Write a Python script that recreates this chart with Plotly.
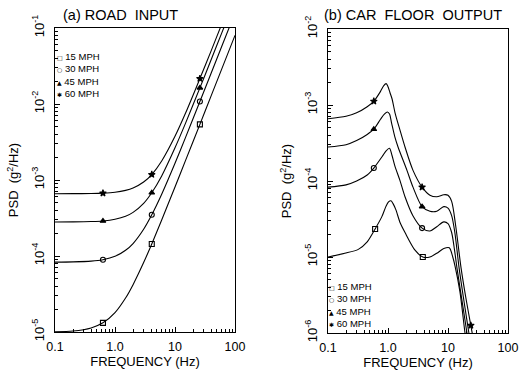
import plotly.graph_objects as go

W, H = 519, 377

# ---------------- (a) ROAD INPUT ----------------
road_f = [0.1, 0.2, 0.4, 0.63, 1, 1.5, 2, 3, 4.1, 6, 10, 15, 26, 40, 60, 100]
road_15 = [1.008e-5, 1.03e-5, 1.13e-5, 1.32e-5, 1.8e-5, 2.8e-5, 4.2e-5, 8.2e-5, 1.44e-4,
           2.98e-4, 8.1e-4, 1.81e-3, 5.4e-3, 1.28e-2, 2.88e-2, 8.0e-2]
road_30 = [8.3e-5, 8.36e-5, 8.55e-5, 8.93e-5, 9.9e-5, 1.19e-4, 1.46e-4, 2.25e-4, 3.49e-4,
           6.5e-4, 1.66e-3, 3.64e-3, 1.08e-2, 2.54e-2, 5.7e-2, 1.58e-1]
road_45 = [2.8e-4, 2.81e-4, 2.84e-4, 2.89e-4, 3.04e-4, 3.33e-4, 3.75e-4, 4.93e-4, 6.8e-4,
           1.13e-3, 2.65e-3, 5.6e-3, 1.63e-2, 3.82e-2, 8.56e-2, 2.37e-1]
road_60 = [6.6e-4, 6.61e-4, 6.65e-4, 6.72e-4, 6.9e-4, 7.3e-4, 7.84e-4, 9.4e-4, 1.18e-3,
           1.78e-3, 3.76e-3, 7.6e-3, 2.16e-2, 5.0e-2, 1.12e-1, 3.1e-1]
road_mark_f = [0.63, 4.1, 26]
road_mark_15 = [1.32e-5, 1.44e-4, 5.4e-3]
road_mark_30 = [8.93e-5, 3.49e-4, 1.08e-2]
road_mark_45 = [2.89e-4, 6.8e-4, 1.63e-2]
road_mark_60 = [6.72e-4, 1.18e-3, 2.16e-2]

# ---------------- (b) CAR FLOOR OUTPUT ----------------
car_f_15 = [0.1, 0.19, 0.32, 0.45, 0.61, 0.79, 0.92, 1.02, 1.12, 1.22, 1.35, 1.6, 1.92, 2.82,
            3.8, 5, 6.5, 8.5, 10.5, 12, 13.1, 15.8, 19.2, 21]
car_15 = [1.0e-5, 1.12e-5, 1.26e-5, 1.58e-5, 2.34e-5, 3.4e-5, 4.6e-5, 5.3e-5, 5.5e-5, 5.0e-5,
          4.2e-5, 2.8e-5, 2.1e-5, 1.23e-5, 1.0e-5, 1.0e-5, 1.12e-5, 1.29e-5, 1.32e-5, 1.0e-5,
          7.6e-6, 3.5e-6, 1.0e-6, 6.3e-7]
car_f_30 = [0.1, 0.2, 0.3, 0.45, 0.58, 0.8, 0.93, 1.06, 1.16, 1.3, 1.58, 1.92, 2.6, 3.7, 5,
            6.5, 8.5, 10, 11.5, 12.8, 14.1, 17, 20.7, 23]
car_30 = [8.3e-5, 8.9e-5, 1.0e-4, 1.2e-4, 1.48e-4, 2.1e-4, 2.5e-4, 2.7e-4, 2.2e-4, 1.58e-4,
          1.02e-4, 6.2e-5, 3.5e-5, 2.4e-5, 2.2e-5, 2.5e-5, 2.9e-5, 2.75e-5, 2.1e-5, 1.26e-5,
          7.2e-6, 2.75e-6, 1.0e-6, 5.6e-7]
car_f_45 = [0.1, 0.2, 0.3, 0.45, 0.58, 0.75, 0.87, 0.98, 1.06, 1.15, 1.3, 1.47, 2.07, 2.61,
            3.7, 5, 6.5, 8.5, 10, 11.5, 13, 15.3, 18.5, 22.3, 25]
car_45 = [2.8e-4, 3.0e-4, 3.4e-4, 4.1e-4, 4.8e-4, 6.5e-4, 7.6e-4, 8.1e-4, 7.6e-4, 5.75e-4,
          3.8e-4, 2.8e-4, 1.38e-4, 8.3e-5, 4.6e-5, 4.0e-5, 4.0e-5, 4.6e-5, 4.4e-5, 3.5e-5,
          2.1e-5, 7.2e-6, 2.6e-6, 1.0e-6, 5.6e-7]
car_f_60 = [0.1, 0.2, 0.3, 0.45, 0.58, 0.75, 0.85, 0.93, 1.0, 1.08, 1.17, 1.31, 1.58, 1.92,
            2.61, 3.7, 5, 6.5, 8.5, 10, 11.5, 13.5, 16.5, 20, 24, 26]
car_60 = [6.6e-4, 7.1e-4, 7.9e-4, 9.5e-4, 1.12e-3, 1.51e-3, 1.8e-3, 1.91e-3, 1.74e-3, 1.45e-3,
          1.2e-3, 7.9e-4, 4.7e-4, 2.8e-4, 1.38e-4, 8.3e-5, 6.5e-5, 6.2e-5, 6.6e-5, 6.5e-5,
          5.4e-5, 2.5e-5, 7.2e-6, 2.8e-6, 1.26e-6, 8.9e-7]
car_mark_f_15 = [0.61, 3.8]
car_mark_15 = [2.34e-5, 1.0e-5]
car_mark_f_30 = [0.58, 3.7]
car_mark_30 = [1.48e-4, 2.4e-5]
car_mark_f_45 = [0.58, 3.7]
car_mark_45 = [4.8e-4, 4.6e-5]
car_mark_f_60 = [0.58, 3.7, 24]
car_mark_60 = [1.12e-3, 8.3e-5, 1.26e-6]

speeds = ["15 MPH", "30 MPH", "45 MPH", "60 MPH"]
symbols = ["square-open", "circle-open", "triangle-up", "star"]
legend_glyphs = ["\u25a1", "\u25cb", "\u25b2", "\u2731"]

FONT = "Liberation Sans"
LW = 1.1

fig = go.Figure()

def add_curve(x, y, xa, ya):
    fig.add_trace(go.Scatter(x=x, y=y, mode="lines", xaxis=xa, yaxis=ya,
                             line=dict(color="black", width=LW, shape="spline", smoothing=0.8),
                             showlegend=False, hoverinfo="skip"))

def add_marks(x, y, sym, xa, ya):
    fig.add_trace(go.Scatter(x=x, y=y, mode="markers", xaxis=xa, yaxis=ya,
                             marker=dict(symbol=sym, size=5, color="black",
                                         line=dict(color="black", width=1.1)),
                             showlegend=False, hoverinfo="skip"))

for y in [road_15, road_30, road_45, road_60]:
    add_curve(road_f, y, "x", "y")
for y, s in zip([road_mark_15, road_mark_30, road_mark_45, road_mark_60], symbols):
    add_marks(road_mark_f, y, s, "x", "y")

for x, y in zip([car_f_15, car_f_30, car_f_45, car_f_60], [car_15, car_30, car_45, car_60]):
    add_curve(x, y, "x2", "y2")
for x, y, s in zip([car_mark_f_15, car_mark_f_30, car_mark_f_45, car_mark_f_60],
                   [car_mark_15, car_mark_30, car_mark_45, car_mark_60], symbols):
    add_marks(x, y, s, "x2", "y2")

x_minor = [m * 10 ** e for e in (-1, 0, 1) for m in range(2, 10)]

def xaxis(domain, anchor):
    return dict(type="log", range=[-1, 2], domain=domain, anchor=anchor, automargin=False,
                tickmode="array", tickvals=[0.1, 1, 10, 100], ticktext=["0.1", "1.0", "10", "100"],
                ticks="inside", ticklen=5, tickcolor="black", tickwidth=1,
                minor=dict(tickmode="array", tickvals=x_minor, ticks="inside", ticklen=3,
                           tickcolor="black", showgrid=False),
                showline=True, linecolor="black", linewidth=1.2, mirror=True,
                showgrid=False, zeroline=False, ticklabelstandoff=3,
                tickfont=dict(family=FONT, size=12.5, color="black"),
                title=dict(text="FREQUENCY (Hz)", font=dict(family=FONT, size=13, color="black"),
                           standoff=3))

def yaxis(domain, anchor, e0, e1):
    vals = [10.0 ** e for e in range(e0, e1 + 1)]
    txt = ["10<sup>%d</sup>" % e for e in range(e0, e1 + 1)]
    minor = [m * 10.0 ** e for e in range(e0, e1) for m in range(2, 10)]
    return dict(type="log", range=[e0, e1], domain=domain, anchor=anchor, automargin=False,
                tickmode="array", tickvals=vals, ticktext=txt, tickangle=-90,
                ticks="inside", ticklen=5, tickcolor="black", tickwidth=1,
                minor=dict(tickmode="array", tickvals=minor, ticks="inside", ticklen=3,
                           tickcolor="black", showgrid=False),
                showline=True, linecolor="black", linewidth=1.2, mirror=True,
                showgrid=False, zeroline=False, ticklabelstandoff=5,
                tickfont=dict(family=FONT, size=13, color="black"),
                title=dict(text="PSD  (g<sup>2</sup>/Hz)", font=dict(family=FONT, size=13, color="black"),
                           standoff=8))

fig.update_layout(
    width=W, height=H, margin=dict(l=0, r=0, t=0, b=0, autoexpand=False),
    paper_bgcolor="white", plot_bgcolor="white",
    xaxis=xaxis([55 / W, 235 / W], "y"),
    yaxis=yaxis([45 / H, 349 / H], "x", -5, -1),
    xaxis2=xaxis([328 / W, 508 / W], "y2"),
    yaxis2=yaxis([44 / H, 348 / H], "x2", -6, -2),
    showlegend=False,
)

ann = []
ann.append(dict(text="(a) ROAD  INPUT", x=61 / W, y=1 - 15 / H, xref="paper", yref="paper",
                xanchor="left", yanchor="middle", showarrow=False,
                font=dict(family=FONT, size=14.5, color="black")))
ann.append(dict(text="(b) CAR  FLOOR  OUTPUT", x=322 / W, y=1 - 15 / H, xref="paper", yref="paper",
                xanchor="left", yanchor="middle", showarrow=False,
                font=dict(family=FONT, size=14.5, color="black")))

def legend(xleft, ytop):
    lines = ["<span style='font-family:DejaVu Sans;font-size:6px'>%s</span> %s" % (g, s)
             for g, s in zip(legend_glyphs, speeds)]
    ann.append(dict(text="<br>".join(lines), x=xleft / W, y=1 - ytop / H, xref="paper", yref="paper",
                    xanchor="left", yanchor="top", align="left", showarrow=False,
                    font=dict(family=FONT, size=9.5, color="black")))

legend(55, 49)
legend(327, 279)

fig.update_layout(annotations=ann)
fig.write_html("out.html",
               config={"displayModeBar": False, "staticPlot": True},
               post_script="document.body.style.margin='0';document.body.style.overflow='hidden';")
